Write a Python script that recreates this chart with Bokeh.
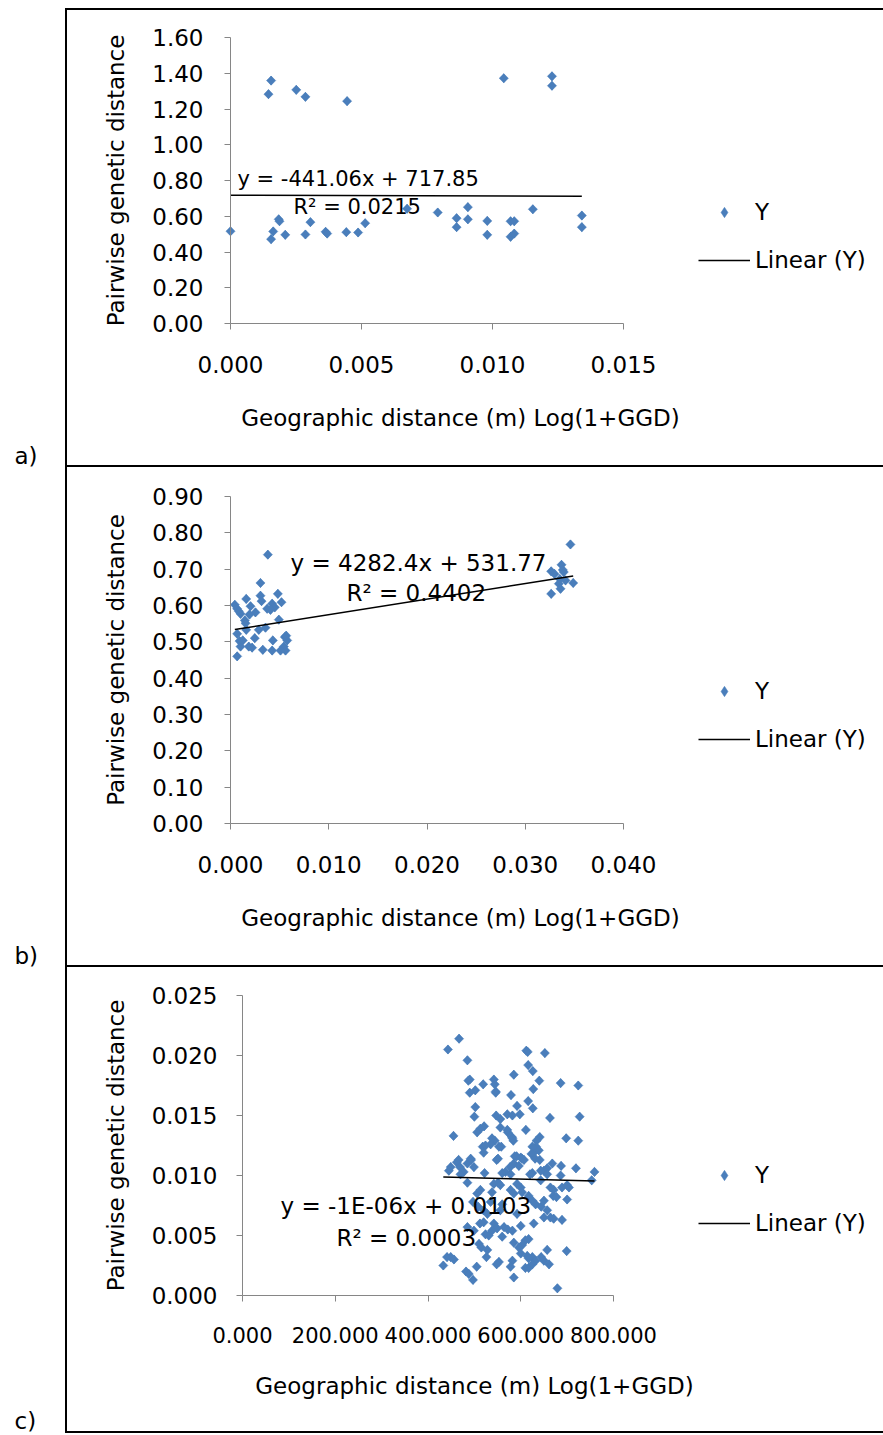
import math
from bokeh.plotting import figure
from bokeh.models import (Range1d, FixedTicker, NumeralTickFormatter, Label,
                          Legend, LegendItem)
from bokeh.embed import file_html
from bokeh.resources import INLINE

# ---------------- data ----------------
x_title = "Geographic distance (m) Log(1+GGD)"
y_title = "Pairwise genetic distance"

# panel a
a_x = [0.00155, 0.00145, 0.00251, 0.00286, 0.00445, 0.01043, 0.01227, 0.01227,
       0.0, 0.00155, 0.00163, 0.00184, 0.00187, 0.00209, 0.00286, 0.00305,
       0.00363, 0.00369, 0.00442, 0.00487, 0.00514, 0.00674, 0.00791, 0.00863,
       0.00863, 0.00906, 0.00906, 0.00980, 0.00980, 0.01069, 0.01083, 0.01069,
       0.01083, 0.01154, 0.01341, 0.01341]
a_y = [1.359, 1.283, 1.307, 1.268, 1.244, 1.372, 1.383, 1.330,
       0.516, 0.472, 0.515, 0.583, 0.572, 0.496, 0.498, 0.567,
       0.513, 0.503, 0.511, 0.509, 0.561, 0.642, 0.621, 0.589,
       0.539, 0.651, 0.583, 0.574, 0.496, 0.572, 0.572, 0.485,
       0.503, 0.639, 0.604, 0.539]
a_slope, a_intercept = -441.06 / 1000, 717.85 / 1000
a_eq = "y = -441.06x + 717.85"
a_r2 = "R\u00b2 = 0.0215"
a_xticks = [0.0, 0.005, 0.010, 0.015]
a_yticks = [0.0, 0.2, 0.4, 0.6, 0.8, 1.0, 1.2, 1.4, 1.6]

# panel b
b_x = [0.0038, 0.00305, 0.0016, 0.00044, 0.00068, 0.00085, 0.00102, 0.00204,
       0.00254, 0.00305, 0.00316, 0.00482, 0.00373, 0.00424, 0.00451, 0.00407,
       0.00519, 0.00146, 0.00153, 0.00068, 0.00092, 0.00068, 0.0016, 0.00186,
       0.0022, 0.00247, 0.00288, 0.00356, 0.00431, 0.00329, 0.00424, 0.00492,
       0.00553, 0.00577, 0.00543, 0.0056, 0.00509, 0.00567, 0.00102, 0.00193,
       0.00125,
       0.0346, 0.03264, 0.03298, 0.03369, 0.03382, 0.03392, 0.03352, 0.03342,
       0.03359, 0.03488, 0.03264, 0.0341]
b_y = [0.740, 0.662, 0.618, 0.602, 0.591, 0.584, 0.577, 0.598,
       0.581, 0.627, 0.612, 0.632, 0.591, 0.605, 0.595, 0.588,
       0.609, 0.559, 0.551, 0.522, 0.502, 0.460, 0.533, 0.487,
       0.484, 0.510, 0.533, 0.539, 0.504, 0.478, 0.476, 0.561,
       0.513, 0.504, 0.487, 0.476, 0.476, 0.517, 0.487, 0.575,
       0.504,
       0.768, 0.694, 0.687, 0.712, 0.698, 0.692, 0.673, 0.660,
       0.646, 0.662, 0.632, 0.669]
b_slope, b_intercept = 4282.4 / 1000, 531.77 / 1000
b_eq = "y = 4282.4x + 531.77"
b_r2 = "R\u00b2 = 0.4402"
b_xticks = [0.0, 0.010, 0.020, 0.030, 0.040]
b_yticks = [0.0, 0.1, 0.2, 0.3, 0.4, 0.5, 0.6, 0.7, 0.8, 0.9]

# panel c
c_x = [443, 467, 485, 612, 615, 652, 616, 626, 585, 487,
       490, 519, 542, 544, 640, 686, 724, 490, 502, 546,
       579, 627, 616, 502, 592, 626, 500, 547, 571, 582,
       598, 663, 727, 521, 513, 506, 556, 611, 572, 581,
       584, 455, 641, 634, 698, 724, 544, 518, 535, 553,
       558, 520, 633, 628, 639, 623, 631, 641, 587, 603,
       548, 466, 462, 449, 445, 485, 493, 499, 477, 470,
       585, 577, 596, 567, 560, 578, 668, 687, 719, 759,
       753, 657, 650, 625, 620, 643, 522, 485, 542, 551,
       556, 592, 600, 686, 689, 704, 664, 670, 677, 700,
       506, 513, 497, 538, 578, 585, 603, 617, 625, 632,
       650, 657, 644, 535, 560, 508, 520, 528, 556, 592,
       664, 671, 689, 628, 520, 512, 485, 499, 542, 549,
       538, 564, 572, 582, 524, 531, 560, 600, 610, 617,
       603, 596, 510, 515, 528, 585, 657, 699, 600, 614,
       625, 632, 644, 650, 661, 526, 582, 553, 548, 449,
       456, 433, 441, 578, 610, 617, 482, 488, 505, 497,
       585, 679,
       657, 643, 671, 700, 600, 607, 625, 582, 650, 617,
       625, 591, 556, 571, 538, 524, 551, 469, 492, 546]
c_y = [0.0205, 0.0214, 0.0196, 0.0204, 0.0203, 0.0202, 0.0192, 0.0187, 0.0184, 0.0179,
       0.0180, 0.0176, 0.0180, 0.0176, 0.0179, 0.0177, 0.0175, 0.0169, 0.0171, 0.0169,
       0.0167, 0.0172, 0.0162, 0.0157, 0.0158, 0.0156, 0.0149, 0.0150, 0.0151, 0.0150,
       0.0151, 0.0148, 0.0149, 0.0141, 0.0139, 0.0136, 0.0140, 0.0138, 0.0136, 0.0132,
       0.0129, 0.0133, 0.0132, 0.0129, 0.0131, 0.0129, 0.0129, 0.0124, 0.0126, 0.0124,
       0.0124, 0.0119, 0.0124, 0.0119, 0.0121, 0.0118, 0.0114, 0.0113, 0.0116, 0.0114,
       0.0113, 0.0113, 0.0111, 0.0107, 0.0104, 0.0110, 0.0113, 0.0107, 0.0103, 0.0101,
       0.0110, 0.0107, 0.0108, 0.0103, 0.0102, 0.0101, 0.0110, 0.0108, 0.0106, 0.0103,
       0.0096, 0.0106, 0.0104, 0.0102, 0.0101, 0.0096, 0.0102, 0.0094, 0.0093, 0.0094,
       0.0092, 0.0093, 0.0090, 0.0100, 0.0090, 0.0090, 0.0090, 0.0083, 0.0082, 0.0080,
       0.0085, 0.0088, 0.0078, 0.0086, 0.0088, 0.0085, 0.0086, 0.0083, 0.0079, 0.0076,
       0.0079, 0.0071, 0.0074, 0.0078, 0.0076, 0.0074, 0.0071, 0.0068, 0.0071, 0.0068,
       0.0065, 0.0064, 0.0063, 0.0060, 0.0061, 0.0060, 0.0057, 0.0054, 0.0060, 0.0056,
       0.0054, 0.0057, 0.0055, 0.0054, 0.0051, 0.0050, 0.0049, 0.0058, 0.0046, 0.0047,
       0.0042, 0.0040, 0.0043, 0.0040, 0.0038, 0.0044, 0.0038, 0.0037, 0.0035, 0.0033,
       0.0032, 0.0029, 0.0032, 0.0029, 0.0026, 0.0032, 0.0029, 0.0028, 0.0026, 0.0032,
       0.0030, 0.0025, 0.0032, 0.0024, 0.0023, 0.0023, 0.0020, 0.0018, 0.0024, 0.0013,
       0.0015, 0.0006,
       0.0101, 0.0104, 0.0088, 0.0092, 0.0115, 0.0113, 0.0124, 0.0131, 0.0065, 0.0031,
       0.0026, 0.0116, 0.0147, 0.0138, 0.0131, 0.0125, 0.0114, 0.0107, 0.0114, 0.0170]
c_slope, c_intercept = -1e-06, 0.0103
c_eq = "y = -1E-06x + 0.0103"
c_r2 = "R\u00b2 = 0.0003"
c_xticks = [0, 200, 400, 600, 800]
c_yticks = [0.0, 0.005, 0.010, 0.015, 0.020, 0.025]

# ---------------- styling ----------------
FONT = "DejaVu Sans"
BLUE = "#4A7EBB"
GREY = "#868686"
W = 883


def css_lines(rects):
    """rects: list of (x, y, w, h) in canvas px -> CSS background lines (the outer box)"""
    return {
        "background-image": ", ".join(["linear-gradient(#000, #000)"] * len(rects)),
        "background-position": ", ".join(f"{x}px {y}px" for x, y, w, h in rects),
        "background-size": ", ".join(f"{w}px {h}px" for x, y, w, h in rects),
        "background-repeat": "no-repeat",
        "background-color": "#ffffff",
    }


def build(xs, ys, slope, intercept, eq, r2, xticks, yticks, xfmt, yfmt, xr, yr,
          origin_y, height, frame, eq_pos, r2_pos, eq_size, title_pos,
          legend_top, tag, tag_pos, lines, xtick_size="23px", ytick_standoff=21,
          xtick_standoff=26):
    # frame = pixel box of the chart's axes (page coordinates); the Bokeh frame
    # covers the whole panel, the axes are pinned with fixed_location/bounds.
    L, T, R, B = frame
    T -= origin_y
    B -= origin_y
    kx = (xr[1] - xr[0]) / (R - L)
    ky = (yr[1] - yr[0]) / (B - T)
    x_range = Range1d(xr[0] - L * kx, xr[1] + (W - R) * kx)
    y_range = Range1d(yr[0] - (height - B) * ky, yr[1] + T * ky)

    p = figure(width=W, height=height, output_backend="svg", toolbar_location=None,
               x_range=x_range, y_range=y_range, min_border=0,
               background_fill_color=None, border_fill_color=None,
               styles=css_lines(lines))
    p.grid.visible = False
    p.outline_line_color = None

    def sy(py):
        return height - (py - origin_y)

    xa, ya = p.xaxis[0], p.yaxis[0]
    xa.fixed_location = yr[0]
    ya.fixed_location = xr[0]
    xa.bounds = xr
    ya.bounds = yr
    for ax in (xa, ya):
        ax.axis_line_color = GREY
        ax.axis_line_width = 1
        ax.major_tick_line_color = GREY
        ax.major_tick_in = 0
        ax.major_tick_out = 6
        ax.minor_tick_line_color = None
        ax.major_label_text_font = FONT
        ax.major_label_text_color = "black"
    xa.ticker = FixedTicker(ticks=xticks)
    ya.ticker = FixedTicker(ticks=yticks)
    xa.formatter = NumeralTickFormatter(format=xfmt)
    ya.formatter = NumeralTickFormatter(format=yfmt)
    xa.major_label_text_font_size = xtick_size
    ya.major_label_text_font_size = "23px"
    xa.major_label_standoff = xtick_standoff
    ya.major_label_standoff = ytick_standoff
    ya.axis_label = y_title
    ya.axis_label_text_font = FONT
    ya.axis_label_text_font_size = "23px"
    ya.axis_label_text_font_style = "normal"
    ya.axis_label_text_color = "black"
    ya.axis_label_standoff = 20

    # a diamond marker drawn under each point (fully covered) gives the legend swatch
    swatch = p.scatter(xs, ys, marker="diamond", size=9,
                       fill_color=BLUE, line_color=BLUE, line_width=0.5)
    p.scatter(xs, ys, marker="square", angle=math.pi / 4, size=6.5,
              fill_color=BLUE, line_color=BLUE, line_width=0.5)
    fx = [min(xs), max(xs)]
    fy = [intercept + slope * v for v in fx]
    ln = p.line(fx, fy, line_color="black", line_width=1.5)

    def text(t, px, py, size, align="left"):
        p.add_layout(Label(x=px, y=sy(py), x_units="screen", y_units="screen",
                           text=t, text_font=FONT, text_font_size=size,
                           text_color="black", text_align=align,
                           text_baseline="middle"))

    text(eq, eq_pos[0], eq_pos[1], eq_size)
    text(r2, r2_pos[0], r2_pos[1], eq_size)
    text(x_title, title_pos[0], title_pos[1], "23px", align="center")
    text(tag, tag_pos[0], tag_pos[1], "23px")

    legend_h = 26 + 22 + 26
    leg = Legend(items=[LegendItem(label="Y", renderers=[swatch]),
                        LegendItem(label="Linear (Y)", renderers=[ln])],
                 location=(698, sy(legend_top + legend_h)),
                 orientation="vertical", glyph_width=52, glyph_height=26,
                 label_height=26, label_standoff=5, spacing=22, padding=0, margin=0,
                 label_text_font=FONT, label_text_font_size="23px",
                 label_text_color="black", border_line_color=None,
                 background_fill_alpha=0)
    p.add_layout(leg)
    return p


pa = build(a_x, a_y, a_slope, a_intercept, a_eq, a_r2, a_xticks, a_yticks, "0.000", "0.00",
           (0, 0.015), (0, 1.6), origin_y=0, height=470, frame=(230, 37, 623, 323),
           eq_pos=(237, 178), r2_pos=(293, 206), eq_size="21px", title_pos=(460, 417),
           legend_top=199, tag="a)", tag_pos=(14, 455),
           lines=[(65, 8, 818, 2), (65, 8, 2, 462), (65, 465, 818, 2)])
pb = build(b_x, b_y, b_slope, b_intercept, b_eq, b_r2, b_xticks, b_yticks, "0.000", "0.00",
           (0, 0.04), (0, 0.9), origin_y=470, height=500, frame=(230, 496, 623, 823),
           eq_pos=(290, 562), r2_pos=(346, 592), eq_size="23px", title_pos=(460, 917),
           legend_top=678, tag="b)", tag_pos=(14, 955),
           lines=[(65, 0, 2, 500), (65, 495, 818, 2)])
pc = build(c_x, c_y, c_slope, c_intercept, c_eq, c_r2, c_xticks, c_yticks, "0.000", "0.000",
           (0, 800), (0, 0.025), origin_y=970, height=465, frame=(242, 995, 613, 1295),
           eq_pos=(280, 1205), r2_pos=(336, 1237), eq_size="23px", title_pos=(474, 1385),
           legend_top=1162, tag="c)", tag_pos=(14, 1420),
           lines=[(65, 0, 2, 463), (65, 461, 818, 2)],
           xtick_size="21px", ytick_standoff=19, xtick_standoff=25)

open("out.html", "w").write(file_html([pa, pb, pc], INLINE))
